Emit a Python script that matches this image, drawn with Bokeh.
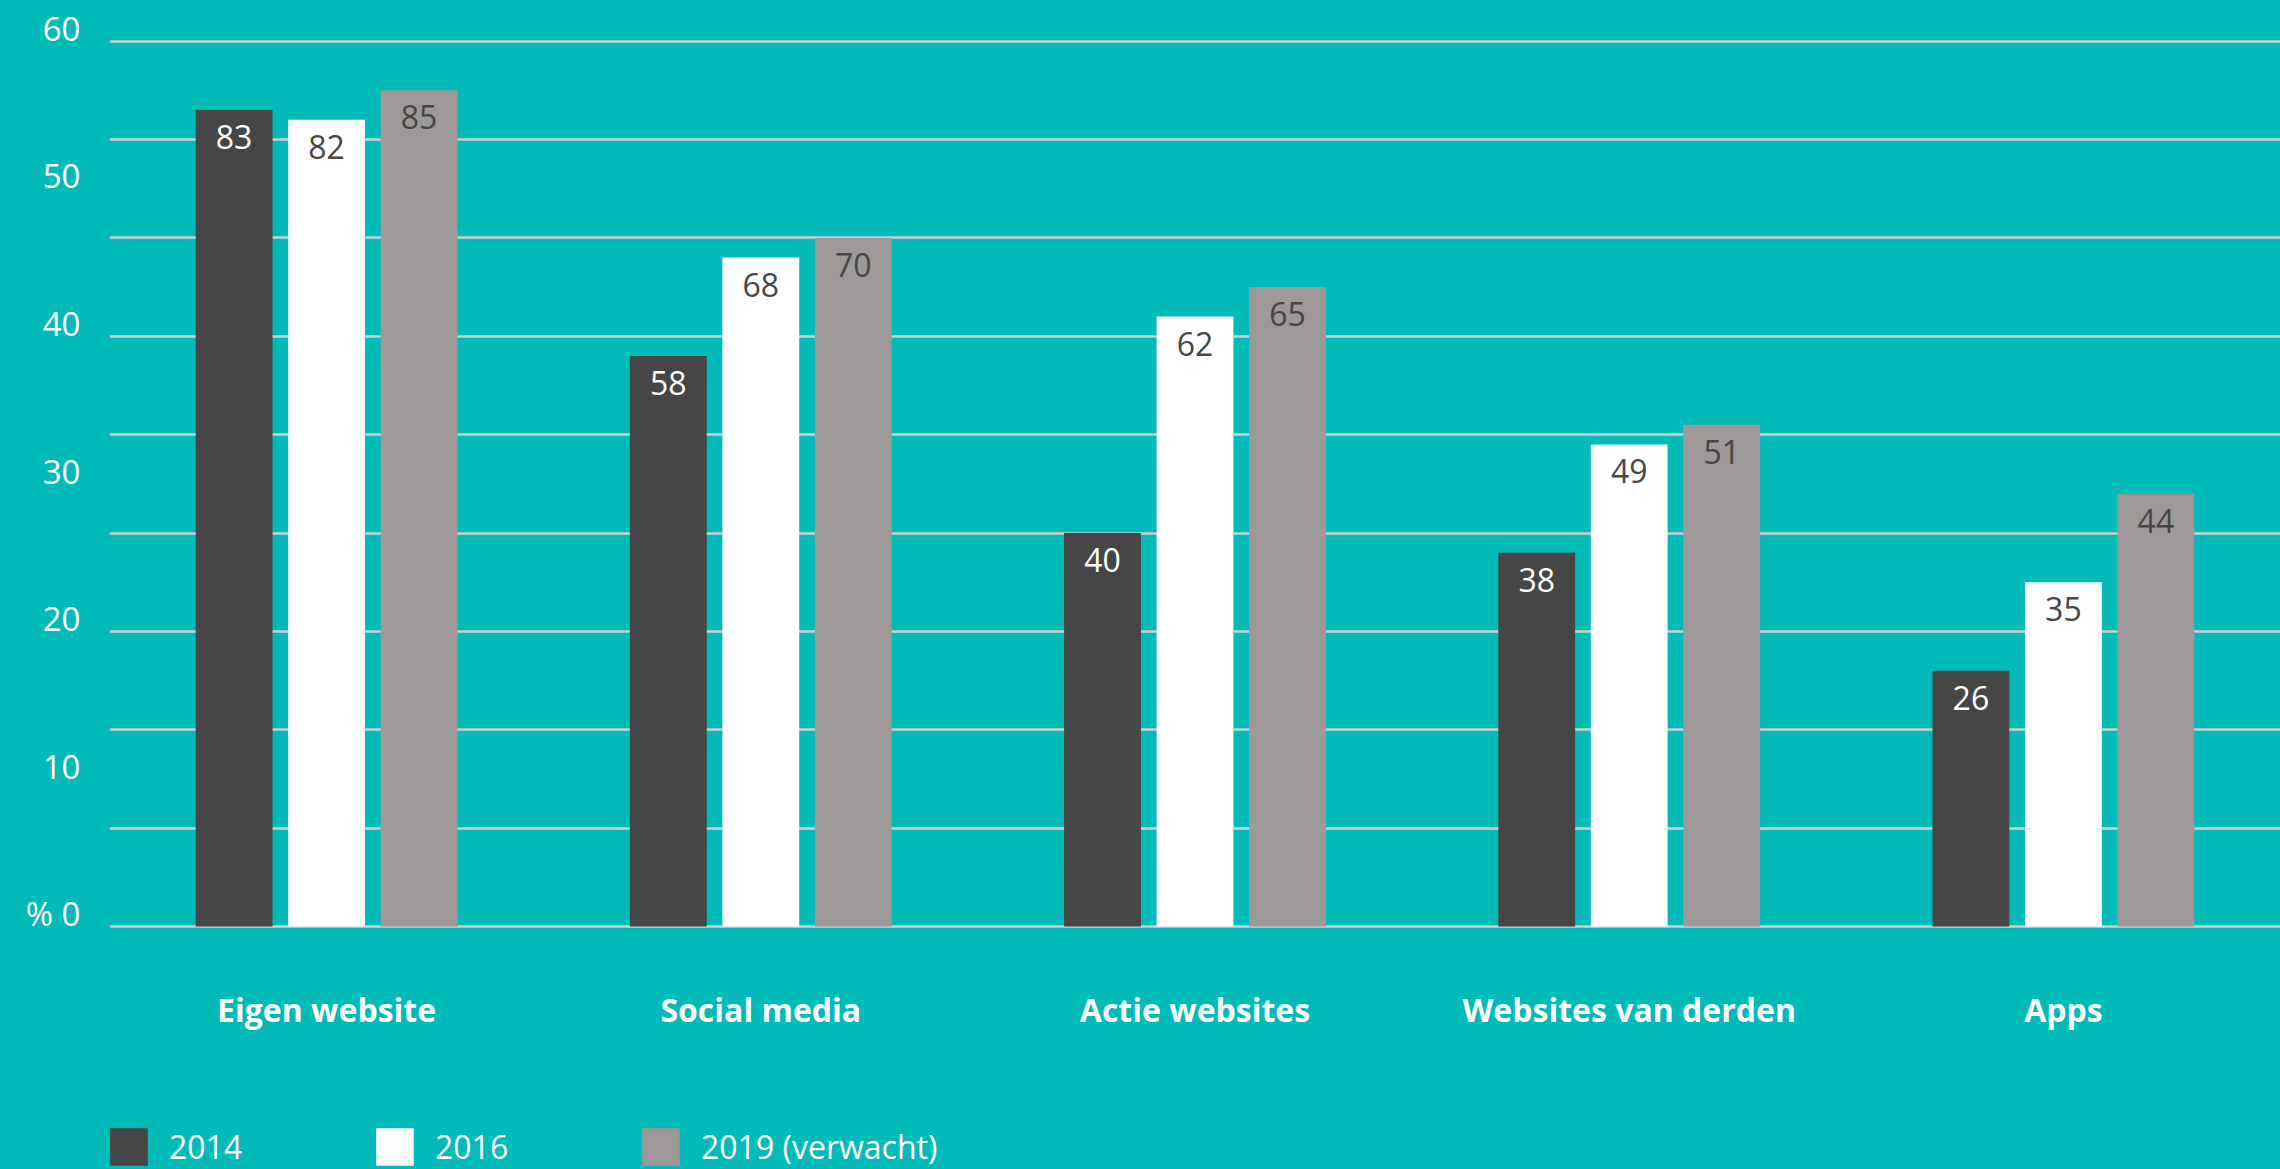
from bokeh.plotting import figure
from bokeh.models import (ColumnDataSource, FixedTicker, Range1d, Legend, LegendItem)
from bokeh.transform import dodge
from bokeh.core.properties import value
from bokeh.embed import file_html
from bokeh.resources import INLINE

categories = ["Eigen website", "Social media", "Actie websites", "Websites van derden", "Apps"]
series_names = ["2014", "2016", "2019 (verwacht)"]
v2014 = [83, 58, 40, 38, 26]
v2016 = [82, 68, 62, 49, 35]
v2019 = [85, 70, 65, 51, 44]
y_tick_labels = ["% 0", "10", "20", "30", "40", "50", "60"]
grid_values = [0, 10, 20, 30, 40, 50, 60, 70, 80, 90]

BG = "#02BAB8"
DARK = "#464646"
GREY = "#9D9999"
FONT = "Open Sans"

W, H = 2280, 1169
TOP = 21            # px above the frame
PX_PER_UNIT = 9.837  # vertical scale of the reference
Y_MAX = 92
Y_MIN = -(H - TOP - Y_MAX * PX_PER_UNIT) / PX_PER_UNIT  # frame reaches the bottom edge

p = figure(x_range=categories, y_range=Range1d(Y_MIN, Y_MAX), width=W, height=H,
           output_backend="svg", toolbar_location=None,
           background_fill_color=BG, background_fill_alpha=0,
           border_fill_color=BG, outline_line_color=None,
           min_border_left=109, min_border_right=0, min_border_top=TOP, min_border_bottom=0)

src = ColumnDataSource(dict(cat=categories, v2014=v2014, v2016=v2016, v2019=v2019,
                            t2014=[str(v) for v in v2014],
                            t2016=[str(v) for v in v2016],
                            t2019=[str(v) for v in v2019]))

specs = [("v2014", "t2014", -0.213, DARK, "white"),
         ("v2016", "t2016", 0.0, "white", DARK),
         ("v2019", "t2019", 0.213, GREY, DARK)]
renderers = []
for col, tcol, off, fill, tcolor in specs:
    r = p.vbar(x=dodge("cat", off, range=p.x_range), top=col, width=0.177, source=src,
               fill_color=fill, line_color=None)
    renderers.append(r)
    p.text(x=dodge("cat", off, range=p.x_range), y=col, text=tcol, source=src,
           text_align="center", text_baseline="middle", y_offset=27,
           text_font=value(FONT), text_font_size="32px", text_color=tcolor)

# grid
p.xgrid.grid_line_color = None
p.ygrid.ticker = FixedTicker(ticks=grid_values)
p.ygrid.grid_line_color = "#CFCFCF"
p.ygrid.grid_line_width = 2.5

# y axis: labels sit slightly above their gridline
y_ticks = [k * 15 + 1.3 for k in range(len(y_tick_labels))]
p.yaxis.ticker = FixedTicker(ticks=y_ticks)
p.yaxis.major_label_overrides = {t: lab for t, lab in zip(y_ticks, y_tick_labels)}
p.yaxis.axis_line_color = None
p.yaxis.major_tick_line_color = None
p.yaxis.minor_tick_line_color = None
p.yaxis.major_label_standoff = 23
p.yaxis.major_label_text_color = "white"
p.yaxis.major_label_text_font = FONT
p.yaxis.major_label_text_font_size = "33px"

# x axis drawn at the zero line
p.xaxis.fixed_location = 0
p.xaxis.axis_line_color = None
p.xaxis.major_tick_line_color = None
p.xaxis.minor_tick_line_color = None
p.xaxis.major_label_standoff = 55
p.xaxis.major_label_text_color = "white"
p.xaxis.major_label_text_font = FONT
p.xaxis.major_label_text_font_style = "bold"
p.xaxis.major_label_text_font_size = "32px"

legend = Legend(items=[LegendItem(label=n, renderers=[r]) for n, r in zip(series_names, renderers)],
                orientation="horizontal", location=(-4, -1),
                glyph_width=47, glyph_height=47, label_standoff=17, label_width=110,
                spacing=92, padding=0, margin=0,
                background_fill_alpha=0, border_line_color=None,
                label_text_color="white", label_text_font=FONT, label_text_font_size="32px")
p.add_layout(legend, "center")

html = file_html(p, INLINE)
html = html.replace("</head>", "<style>html, body { background: %s; }</style></head>" % BG, 1)
open("out.html", "w").write(html)
